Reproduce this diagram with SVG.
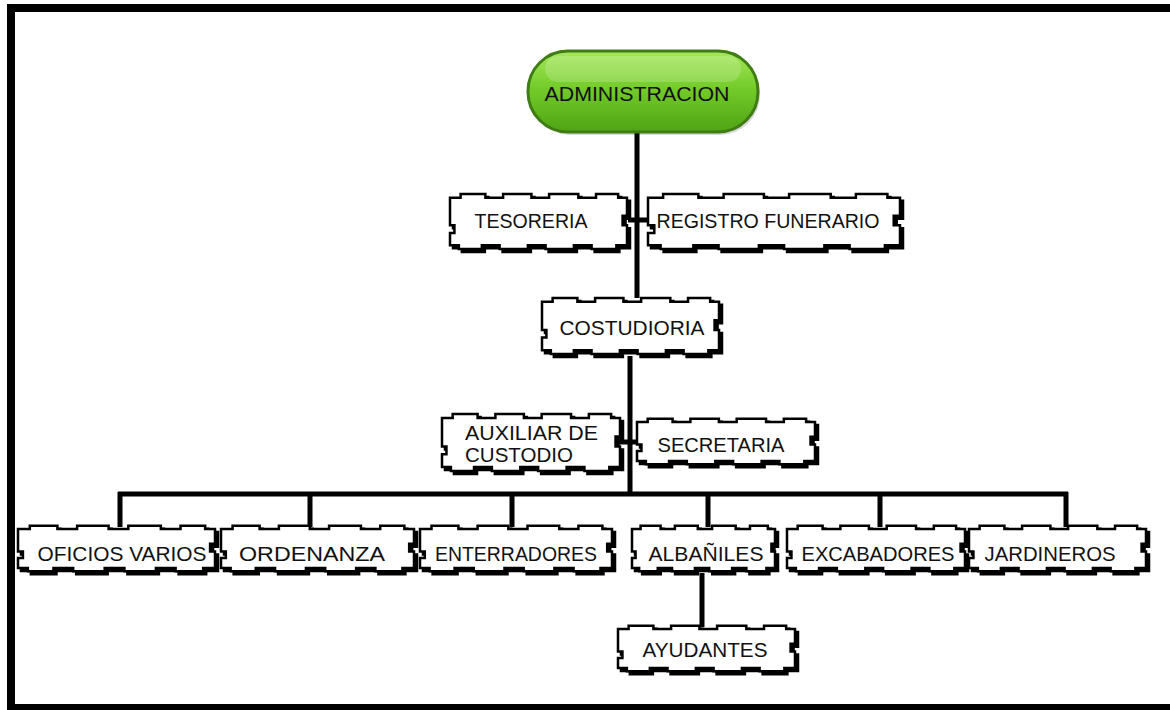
<svg xmlns="http://www.w3.org/2000/svg" xmlns:xlink="http://www.w3.org/1999/xlink" width="1170" height="710" viewBox="0 0 1170 710">
<style>
.sh{fill:#000;stroke:#000;stroke-width:2.5}
.bx{fill:#fff;stroke:#000;stroke-width:2.5}
.t{font-family:"Liberation Sans",Arial,sans-serif;font-size:21px;fill:#111;text-anchor:middle}
.tl{font-family:"Liberation Sans",Arial,sans-serif;font-size:21px;fill:#111}
.ln{stroke:#000;stroke-width:5;fill:none}
</style>
<defs>
<path id="jb" vector-effect="non-scaling-stroke" d="M0,5 H12 V1 H40 V5 H60 V1 H92 V5 H112 V1 H145 V5 H165 V1 H190 V5 H200 V24 H195 V34 H200 V55 H188 V59 H160 V55 H140 V59 H108 V55 H88 V59 H56 V55 H36 V59 H10 V55 H0 V42 H5 V34 H0 Z"/>
<linearGradient id="gg" x1="0" y1="0" x2="0" y2="1">
<stop offset="0" stop-color="#a6e85a"/>
<stop offset="0.45" stop-color="#74cc2a"/>
<stop offset="1" stop-color="#4fa414"/>
</linearGradient>
</defs>
<rect width="1170" height="710" fill="#fff"/>
<path d="M7,4 H1170 V12 H15 V704 H1170 V710 H7 Z" fill="#000"/>

<g id="connectors">
<line class="ln" x1="637" y1="130" x2="637" y2="298"/>
<line class="ln" x1="628" y1="220" x2="650" y2="220"/>
<line class="ln" x1="630" y1="356" x2="630" y2="496"/>
<line class="ln" x1="619" y1="442" x2="639" y2="442"/>
<line class="ln" x1="118" y1="494" x2="1068" y2="494"/>
<line class="ln" x1="120" y1="492" x2="120" y2="527"/>
<line class="ln" x1="310" y1="492" x2="310" y2="527"/>
<line class="ln" x1="512" y1="492" x2="512" y2="527"/>
<line class="ln" x1="708" y1="492" x2="708" y2="527"/>
<line class="ln" x1="880" y1="492" x2="880" y2="527"/>
<line class="ln" x1="1066" y1="492" x2="1066" y2="527"/>
<line class="ln" x1="702" y1="573" x2="702" y2="627"/>
</g>

<g id="administracion">
<rect x="530" y="54" width="230" height="81" rx="40" fill="#000" opacity="0.15"/>
<rect x="528" y="51" width="230" height="81" rx="40" fill="url(#gg)" stroke="#3f7d14" stroke-width="3"/>
<rect x="545" y="56" width="196" height="26" rx="13" fill="#fff" opacity="0.18"/>
<text class="t" x="637" y="101" textLength="185" lengthAdjust="spacingAndGlyphs">ADMINISTRACION</text>
</g>

<g id="tesoreria">
<use xlink:href="#jb" class="sh" transform="translate(453,196) scale(0.885,0.95)"/>
<use xlink:href="#jb" class="bx" transform="translate(450,193) scale(0.885,0.95)"/>
<text class="t" x="531" y="228" textLength="113" lengthAdjust="spacingAndGlyphs">TESORERIA</text>
</g>

<g id="registro">
<use xlink:href="#jb" class="sh" transform="translate(651,196) scale(1.26,0.95)"/>
<use xlink:href="#jb" class="bx" transform="translate(648,193) scale(1.26,0.95)"/>
<text class="t" x="768" y="228" textLength="223" lengthAdjust="spacingAndGlyphs">REGISTRO FUNERARIO</text>
</g>

<g id="costudioria">
<use xlink:href="#jb" class="sh" transform="translate(545,300) scale(0.885,0.967)"/>
<use xlink:href="#jb" class="bx" transform="translate(542,297) scale(0.885,0.967)"/>
<text class="t" x="632" y="335" textLength="145" lengthAdjust="spacingAndGlyphs">COSTUDIORIA</text>
</g>

<g id="auxiliar">
<use xlink:href="#jb" class="sh" transform="translate(445,416) scale(0.89,0.983)"/>
<use xlink:href="#jb" class="bx" transform="translate(442,413) scale(0.89,0.983)"/>
<text class="tl" x="465" y="440" textLength="133" lengthAdjust="spacingAndGlyphs">AUXILIAR DE</text>
<text class="tl" x="465" y="462" textLength="108" lengthAdjust="spacingAndGlyphs">CUSTODIO</text>
</g>

<g id="secretaria">
<use xlink:href="#jb" class="sh" transform="translate(640,421) scale(0.89,0.783)"/>
<use xlink:href="#jb" class="bx" transform="translate(637,418) scale(0.89,0.783)"/>
<text class="t" x="721" y="452" textLength="127" lengthAdjust="spacingAndGlyphs">SECRETARIA</text>
</g>

<g id="oficios">
<use xlink:href="#jb" class="sh" transform="translate(21,528) scale(0.985,0.783)"/>
<use xlink:href="#jb" class="bx" transform="translate(18,525) scale(0.985,0.783)"/>
<text class="t" x="122" y="561" textLength="169" lengthAdjust="spacingAndGlyphs">OFICIOS VARIOS</text>
</g>

<g id="ordenanza">
<use xlink:href="#jb" class="sh" transform="translate(224,528) scale(0.965,0.783)"/>
<use xlink:href="#jb" class="bx" transform="translate(221,525) scale(0.965,0.783)"/>
<text class="t" x="312" y="561" textLength="146" lengthAdjust="spacingAndGlyphs">ORDENANZA</text>
</g>

<g id="enterradores">
<use xlink:href="#jb" class="sh" transform="translate(423,528) scale(0.96,0.783)"/>
<use xlink:href="#jb" class="bx" transform="translate(420,525) scale(0.96,0.783)"/>
<text class="t" x="516" y="561" textLength="162" lengthAdjust="spacingAndGlyphs">ENTERRADORES</text>
</g>

<g id="albaniles">
<use xlink:href="#jb" class="sh" transform="translate(635,528) scale(0.715,0.783)"/>
<use xlink:href="#jb" class="bx" transform="translate(632,525) scale(0.715,0.783)"/>
<text class="t" x="706" y="561" textLength="115" lengthAdjust="spacingAndGlyphs">ALBAÑILES</text>
</g>

<g id="excabadores">
<use xlink:href="#jb" class="sh" transform="translate(790,528) scale(0.89,0.783)"/>
<use xlink:href="#jb" class="bx" transform="translate(787,525) scale(0.89,0.783)"/>
<text class="t" x="878" y="561" textLength="153" lengthAdjust="spacingAndGlyphs">EXCABADORES</text>
</g>

<g id="jardineros">
<use xlink:href="#jb" class="sh" transform="translate(972,528) scale(0.885,0.783)"/>
<use xlink:href="#jb" class="bx" transform="translate(969,525) scale(0.885,0.783)"/>
<text class="t" x="1050" y="561" textLength="131" lengthAdjust="spacingAndGlyphs">JARDINEROS</text>
</g>

<g id="ayudantes">
<use xlink:href="#jb" class="sh" transform="translate(621,628) scale(0.885,0.783)"/>
<use xlink:href="#jb" class="bx" transform="translate(618,625) scale(0.885,0.783)"/>
<text class="t" x="705" y="657" textLength="125" lengthAdjust="spacingAndGlyphs">AYUDANTES</text>
</g>
</svg>
